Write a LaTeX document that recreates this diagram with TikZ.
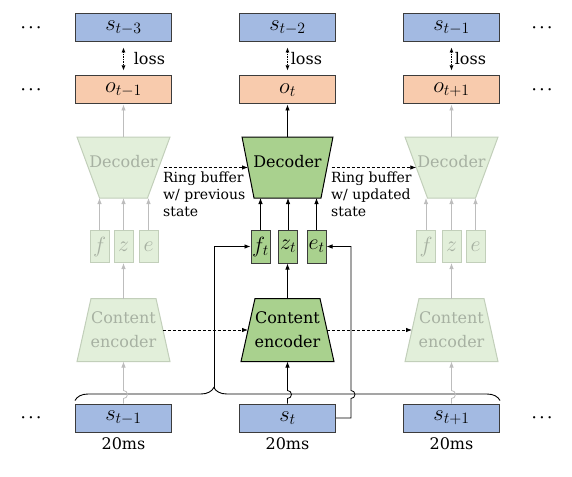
\RequirePackage{fix-cm}
\documentclass[tikz,border=0pt]{standalone}
\usepackage[no-math]{fontspec}
\setmainfont{DejaVu Serif}
\usetikzlibrary{shapes.geometric,arrows.meta,decorations.pathreplacing,calc}
\definecolor{sblue}{HTML}{A3BAE2}
\definecolor{opeach}{HTML}{F8CBAD}
\definecolor{gfill}{HTML}{A9D18E}
\definecolor{lgfill}{HTML}{E2EFDA}
\definecolor{lgdraw}{HTML}{C2CFBA}
\definecolor{lgtext}{HTML}{A7B1A2}
\definecolor{garrow}{HTML}{BDBDBD}
\definecolor{bdr}{HTML}{3C3C3C}
\tikzset{
  box/.style={draw=bdr, line width=1pt, minimum width=96pt, minimum height=28pt, inner sep=0pt, font=\fontsize{22.5}{26}\selectfont},
  sbox/.style={box, fill=sblue},
  obox/.style={box, fill=opeach},
  trapz/.style={trapezium, outer sep=0pt, line width=1pt},
  act/.style={trapz, fill=gfill, draw=black},
  pas/.style={trapz, fill=lgfill, draw=lgdraw},
  lbl/.style={font=\fontsize{16}{24}\selectfont, align=center, inner sep=0pt},
  plbl/.style={lbl, text=lgtext},
  feat/.style={minimum width=19pt, minimum height=33pt, inner sep=1pt, line width=1pt, font=\fontsize{22}{26}\selectfont},
  afeat/.style={feat, fill=gfill, draw=bdr},
  pfeat/.style={feat, fill=lgfill, draw=lgdraw, text=lgtext},
  arr/.style={-{Latex[length=6pt,width=4.5pt]}, line width=0.8pt},
  parr/.style={arr, draw=garrow},
  darr/.style={arr, dash pattern=on 3pt off 2pt},
  lossarr/.style={{Latex[length=5pt,width=4pt]}-{Latex[length=5pt,width=4pt]}, line width=0.7pt, densely dotted},
  lossl/.style={font=\fontsize{16}{20}\selectfont, inner sep=0pt},
  dotsl/.style={font=\fontsize{15}{18}\selectfont\boldmath, inner sep=0pt},
  ring/.style={font=\fontsize{14}{17}\selectfont, align=left, inner sep=0pt, anchor=north west},
  pdec/.style={pas, shape border rotate=180, trapezium angle=69.75, inner xsep=24pt, inner ysep=30.5pt},
  adec/.style={act, shape border rotate=180, trapezium angle=78.9, inner xsep=33.5pt, inner ysep=30.5pt},
  enctrap/.style={trapezium angle=77.5, inner xsep=32.5pt, inner ysep=31.5pt},
}
\begin{document}
\begin{tikzpicture}[x=1pt,y=-1pt]
\useasboundingbox (0,0) rectangle (572,476);
% top rows
\node[sbox] (s3) at (123.5,28) {$s_{t-3}$};
\node[sbox] (s2) at (287.5,28) {$s_{t-2}$};
\node[sbox] (s1) at (451.5,28) {$s_{t-1}$};
\node[obox] (oL) at (123.5,90) {$o_{t-1}$};
\node[obox] (oC) at (287.5,90) {$o_{t}$};
\node[obox] (oR) at (451.5,90) {$o_{t+1}$};
% bottom row
\node[sbox] (sbL) at (123.5,418) {$s_{t-1}$};
\node[sbox] (sbC) at (287.5,418) {$s_{t}$};
\node[sbox] (sbR) at (451.5,418) {$s_{t+1}$};
\node[lbl] (msL) at (123.5,444) {20ms};
\node[lbl] (msC) at (287.5,444) {20ms};
\node[lbl] (msR) at (451.5,444) {20ms};
% dots
\node[dotsl] (d1) at (31,28) {$\cdots$};
\node[dotsl] (d2) at (31,90) {$\cdots$};
\node[dotsl] (d3) at (31,418) {$\cdots$};
\node[dotsl] (d4) at (542,28) {$\cdots$};
\node[dotsl] (d5) at (542,90) {$\cdots$};
\node[dotsl] (d6) at (542,418) {$\cdots$};
% decoders
\node[pdec] (decL) at (123.5,167.5) {};
\node[adec] (decC) at (287.5,167.5) {};
\node[pdec] (decR) at (451.5,167.5) {};
\node[plbl] (decLt) at (123.5,162) {Decoder};
\node[lbl] (decCt) at (287.5,162) {Decoder};
\node[plbl] (decRt) at (451.5,162) {Decoder};
% encoders
\node[pas, enctrap] (encL) at (123.5,330) {};
\node[act, enctrap] (encC) at (287.5,330) {};
\node[pas, enctrap] (encR) at (451.5,330) {};
\node[plbl] (encLt) at (123.5,330) {Content\\encoder};
\node[lbl] (encCt) at (287.5,330) {Content\\encoder};
\node[plbl] (encRt) at (451.5,330) {Content\\encoder};
% features
\node[afeat] (ft) at (260.5,246.5) {$f_t$};
\node[afeat] (zt) at (288,246.5) {$z_t$};
\node[afeat] (et) at (316.5,246.5) {$e_t$};
\node[pfeat, minimum height=32pt] (fL) at (99.5,246.5) {$f$};
\node[pfeat, minimum height=32pt] (zL) at (123.5,246.5) {$z$};
\node[pfeat, minimum height=32pt] (eL) at (148.5,246.5) {$e$};
\node[pfeat, minimum height=32pt] (fR) at (426,246.5) {$f$};
\node[pfeat, minimum height=32pt] (zR) at (451.5,246.5) {$z$};
\node[pfeat, minimum height=32pt] (eR) at (475.5,246.5) {$e$};
% ring buffer labels
\node[ring] (rb1) at (163,172) {Ring buffer\\w/ previous\\state};
\node[ring] (rb2) at (331,172) {Ring buffer\\w/ updated\\state};
% loss arrows
\draw[lossarr] ([yshift=-5pt]s3.south) -- ([yshift=5pt]oL.north) node[midway, right=10pt, lossl] (lossL) {loss};
\draw[lossarr] ([yshift=-5pt]s2.south) -- ([yshift=5pt]oC.north) node[midway, right=3pt, lossl] (lossC) {loss};
\draw[lossarr] ([yshift=-5pt]s1.south) -- ([yshift=5pt]oR.north) node[midway, right=3pt, lossl] (lossR) {loss};
% decoder to outputs
\draw[parr] (decL.90) -- (oL.south);
\draw[arr] (decC.90) -- (oC.south);
\draw[parr] (decR.90) -- (oR.south);
% features to decoders
\draw[parr] (fL.north) -- (fL.north |- decL.270);
\draw[parr] (zL.north) -- (zL.north |- decL.270);
\draw[parr] (eL.north) -- (eL.north |- decL.270);
\draw[arr] (ft.north) -- (ft.north |- decC.270);
\draw[arr] (zt.north) -- (zt.north |- decC.270);
\draw[arr] (et.north) -- (et.north |- decC.270);
\draw[parr] (fR.north) -- (fR.north |- decR.270);
\draw[parr] (zR.north) -- (zR.north |- decR.270);
\draw[parr] (eR.north) -- (eR.north |- decR.270);
% encoders to z
\draw[parr] (encL.90) -- (zL.south);
\draw[arr] (encC.90) -- (encC.90 |- zt.south);
\draw[parr] (encR.90) -- (zR.south);
% ring buffer dashed
\draw[darr, shorten <=5pt] (decL.0) -- (decC.180);
\draw[darr, shorten <=5pt] (decC.0) -- (decR.180);
\draw[darr] (encL.0) -- (encC.180);
\draw[darr] (encC.0) -- (encR.180);
% brace
\draw[line width=0.9pt, decorate, decoration={brace, amplitude=13pt, aspect=0.3267}] ([yshift=3pt]sbL.north west) -- ([yshift=3pt]sbR.north east);
\coordinate (hop) at (0,394.5);
\coordinate (btip) at (214,388);
\coordinate (fb) at (351,0);
% inputs to encoders with hops
\draw[parr] (sbL.north) -- ($(sbL.north|-hop)+(0,4)$) arc[start angle=90,end angle=-90,radius=4] -- (encL.270);
\draw[arr] (sbC.north) -- ($(sbC.north|-hop)+(0,4)$) arc[start angle=90,end angle=-90,radius=4] -- (encC.270);
\draw[parr] (sbR.north) -- ($(sbR.north|-hop)+(0,4)$) arc[start angle=90,end angle=-90,radius=4] -- (encR.270);
% feedback lines
\draw[arr] (btip) |- (ft.west);
\draw[arr] (sbC.east) -- (sbC.east -| fb) -- ($(fb|-hop)+(0,4)$) arc[start angle=90,end angle=-90,radius=4] |- (et.east);
\end{tikzpicture}
\end{document}
